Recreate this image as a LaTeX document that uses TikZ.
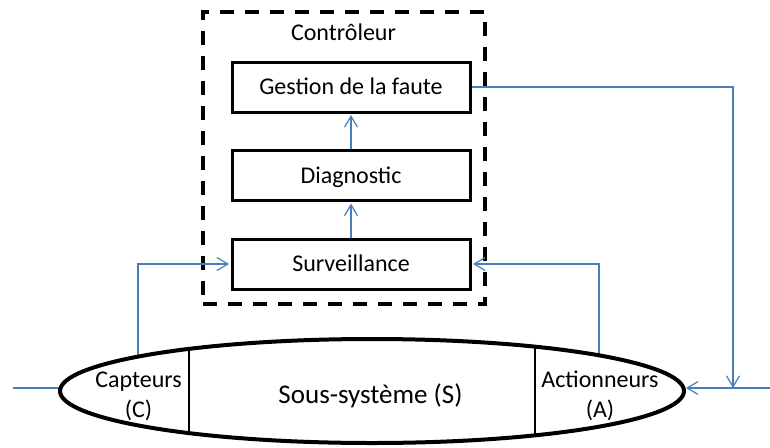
\documentclass[tikz,border=0pt]{standalone}
\usepackage{fontspec}
\setmainfont{Carlito}
\usetikzlibrary{arrows.meta,shapes.geometric}
\definecolor{conn}{RGB}{74,126,187}
\begin{document}
\begin{tikzpicture}[x=1pt,y=-1pt,
  blk/.style={draw,line width=3pt,minimum width=238pt,minimum height=50pt,inner sep=0pt,text height=15.5pt,text depth=0pt,font=\fontsize{24}{29}\selectfont},
  lbl/.style={inner sep=0pt,anchor=base,font=\fontsize{24}{29}\selectfont},
  link/.style={draw=conn,line width=1.2pt},
  arr/.style={link,-{Straight Barb[length=11pt,width=13pt]}},
  ctrlbox/.style={draw,line width=4pt,dash pattern=on 14pt off 11pt,minimum width=282pt,minimum height=292pt,inner sep=0pt}
]
\useasboundingbox (0,0) rectangle (770,447);
\fill[white] (0,0) rectangle (770,447);

% controller frame
\node[ctrlbox] (ctrl) at (344,158) {};
\node[lbl] (ctl) at (343.5,40.5) {Contrôleur};

% blocks
\node[blk] (gest) at (351,87) {Gestion de la faute};
\node[blk] (diag) at (351,175.5) {Diagnostic};
\node[blk] (surv) at (351,264) {Surveillance};

% coordinates
\coordinate (cl) at (138,357);
\coordinate (cr) at (599,355);
\coordinate (jn) at (733,388);
\coordinate (rin) at (770,388);
\coordinate (sysE) at (686,388);
\coordinate (lout) at (13,388);
\coordinate (sysW) at (60,388);

% connectors
\draw[arr,shorten >=1.5pt] (cl) |- (surv.west);
\draw[arr,shorten >=1.5pt] (cr) |- (surv.east);
\draw[arr,shorten >=1.5pt] (surv.north) -- (diag.south);
\draw[arr,shorten >=1.5pt] (diag.north) -- (gest.south);
\draw[arr] (gest.east) -| (jn);
\draw[arr] (rin) -- (sysE);
\draw[link] (lout) -- (sysW);

% subsystem
\node[draw,ellipse,line width=4pt,minimum width=624pt,minimum height=104pt,inner sep=0pt] (sys) at (372,391) {};
\begin{scope}
  \clip (372,391) ellipse [x radius=312pt, y radius=52pt];
  \draw[line width=2.5pt] (189,330) -- (189,450);
  \draw[line width=2.5pt] (535,330) -- (535,450);
\end{scope}

\node[lbl] (capa) at (138.5,387) {Capteurs};
\node[lbl] (capb) at (138.5,417) {(C)};
\node[lbl] (acta) at (600,387) {Actionneurs};
\node[lbl] (actb) at (600,417) {(A)};
\node[lbl,font=\fontsize{27}{32}\selectfont] (sst) at (370.5,403) {Sous-système (S)};
\end{tikzpicture}
\end{document}
